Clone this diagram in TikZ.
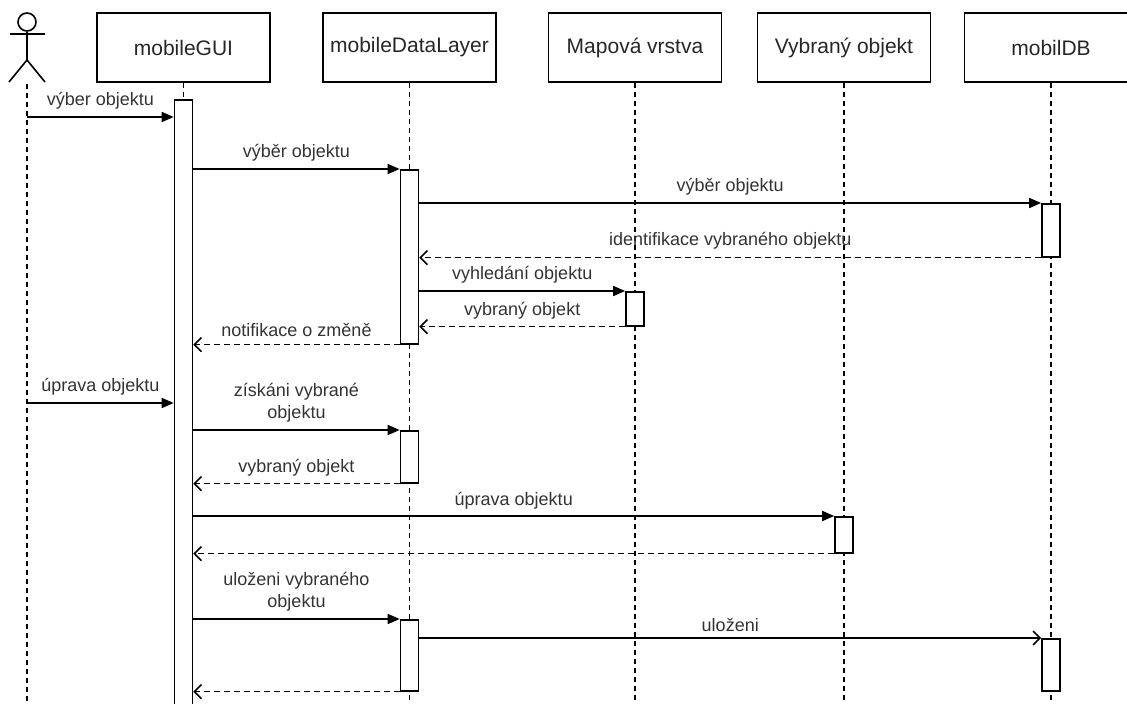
\documentclass[tikz,border=0pt]{standalone}
\usepackage{fontspec}
\setmainfont{Liberation Sans}
\usetikzlibrary{arrows.meta}
\begin{document}
\begin{tikzpicture}[x=1pt,y=-1pt,
  lw/.style={line width=1.6pt},
  hdr/.style={draw,lw,rectangle,minimum width=173pt,minimum height=69pt,inner sep=0pt,
     font=\fontsize{21}{25}\selectfont,text=black!85},
  life/.style={lw,dash pattern=on 5pt off 4pt},
  act/.style={draw,lw,fill=white,rectangle,minimum width=18pt,inner sep=0pt,anchor=north},
  lbl/.style={font=\fontsize{18}{22}\selectfont,text=black!80,align=center,inner sep=0pt},
  call/.style={lw,-{Triangle[length=12pt,width=10pt]}},
  async/.style={lw,-{Straight Barb[length=7pt,width=14pt]}},
  ret/.style={lw,dash pattern=on 6pt off 4pt,-{Straight Barb[length=7pt,width=14pt]}}
]
\useasboundingbox (0,0) rectangle (1127,704);
\clip (0,0) rectangle (1127,704);

% actor
\node[draw,lw,circle,minimum size=18pt,inner sep=0pt] (head) at (27,22) {};
\coordinate (hip) at (27,60);
\coordinate (armL) at (10,34);
\coordinate (armR) at (45,34);
\coordinate (legL) at (9,82);
\coordinate (legR) at (45,82);
\coordinate (afoot) at (27,84);
\coordinate (aend) at (27,720);
\draw[lw] (head.south) -- (hip);
\draw[lw] (armL) -- (armR);
\draw[lw] (legL) -- (hip) -- (legR);

% headers
\node[hdr] (gui) at (183.5,47.5) {mobileGUI};
\node[hdr] (dl)  at (409.5,47.5) {mobileDataLayer};
\node[hdr] (map) at (635,47.5) {Mapová vrstva};
\node[hdr] (vo)  at (844,47.5) {Vybraný objekt};
\node[hdr] (db)  at (1051,47.5) {mobilDB};

% lifelines
\coordinate (guiEnd) at (183.5,720);
\coordinate (dlEnd) at (409.5,720);
\coordinate (mapEnd) at (635,720);
\coordinate (voEnd) at (844,720);
\coordinate (dbEnd) at (1051,720);
\draw[life] (afoot) -- (aend);
\draw[life] (gui.south) -- (guiEnd);
\draw[life] (dl.south) -- (dlEnd);
\draw[life] (map.south) -- (mapEnd);
\draw[life] (vo.south) -- (voEnd);
\draw[life] (db.south) -- (dbEnd);

% activations
\node[act,minimum height=640pt] (g1) at (183.5,99) {};
\node[act,minimum height=174pt] (d1) at (409.5,169) {};
\node[act,minimum height=53pt]  (b1) at (1051,203) {};
\node[act,minimum height=34pt]  (m1) at (635,291) {};
\node[act,minimum height=52pt]  (d2) at (409.5,430) {};
\node[act,minimum height=36pt]  (v1) at (844,516) {};
\node[act,minimum height=71pt]  (d3) at (409.5,619) {};
\node[act,minimum height=52pt]  (b2) at (1051,638) {};

% messages
\coordinate (m0) at (27,117);
\draw[call] (m0) -- node[lbl,above=7pt] {výber objektu} (g1.west |- m0);
\draw[call] (g1.east |- d1.north) -- node[lbl,above=7pt] {výběr objektu} (d1.north west);
\draw[call] (d1.east |- b1.north) -- node[lbl,above=7pt] {výběr objektu} (b1.north west);
\draw[ret] (b1.south west) -- node[lbl,above=8pt] {identifikace vybraného objektu} (d1.east |- b1.south);
\draw[call] (d1.east |- m1.north) -- node[lbl,above=7pt] {vyhledání objektu} (m1.north west);
\draw[ret] (m1.south west) -- node[lbl,above=7pt] {vybraný objekt} (d1.east |- m1.south);
\draw[ret] (d1.south west) -- node[lbl,above=7pt] {notifikace o změně} (g1.east |- d1.south);

\coordinate (m9) at (27,403);
\draw[call] (m9) -- node[lbl,above=7pt] {úprava objektu} (g1.west |- m9);
\draw[call] (g1.east |- d2.north) -- node[lbl,above=7pt] {získáni vybrané\\objektu} (d2.north west);
\draw[ret] (d2.south west) -- node[lbl,above=7pt] {vybraný objekt} (g1.east |- d2.south);
\draw[call] (g1.east |- v1.north) -- node[lbl,above=6pt] {úprava objektu} (v1.north west);
\draw[ret] (v1.south west) -- (g1.east |- v1.south);
\draw[call] (g1.east |- d3.north) -- node[lbl,above=7pt] {uloženi vybraného\\objektu} (d3.north west);
\draw[async] (d3.east |- b2.north) -- node[lbl,above=6pt] {uloženi} (b2.north west);
\draw[ret] (d3.south west) -- (g1.east |- d3.south);
\end{tikzpicture}
\end{document}
